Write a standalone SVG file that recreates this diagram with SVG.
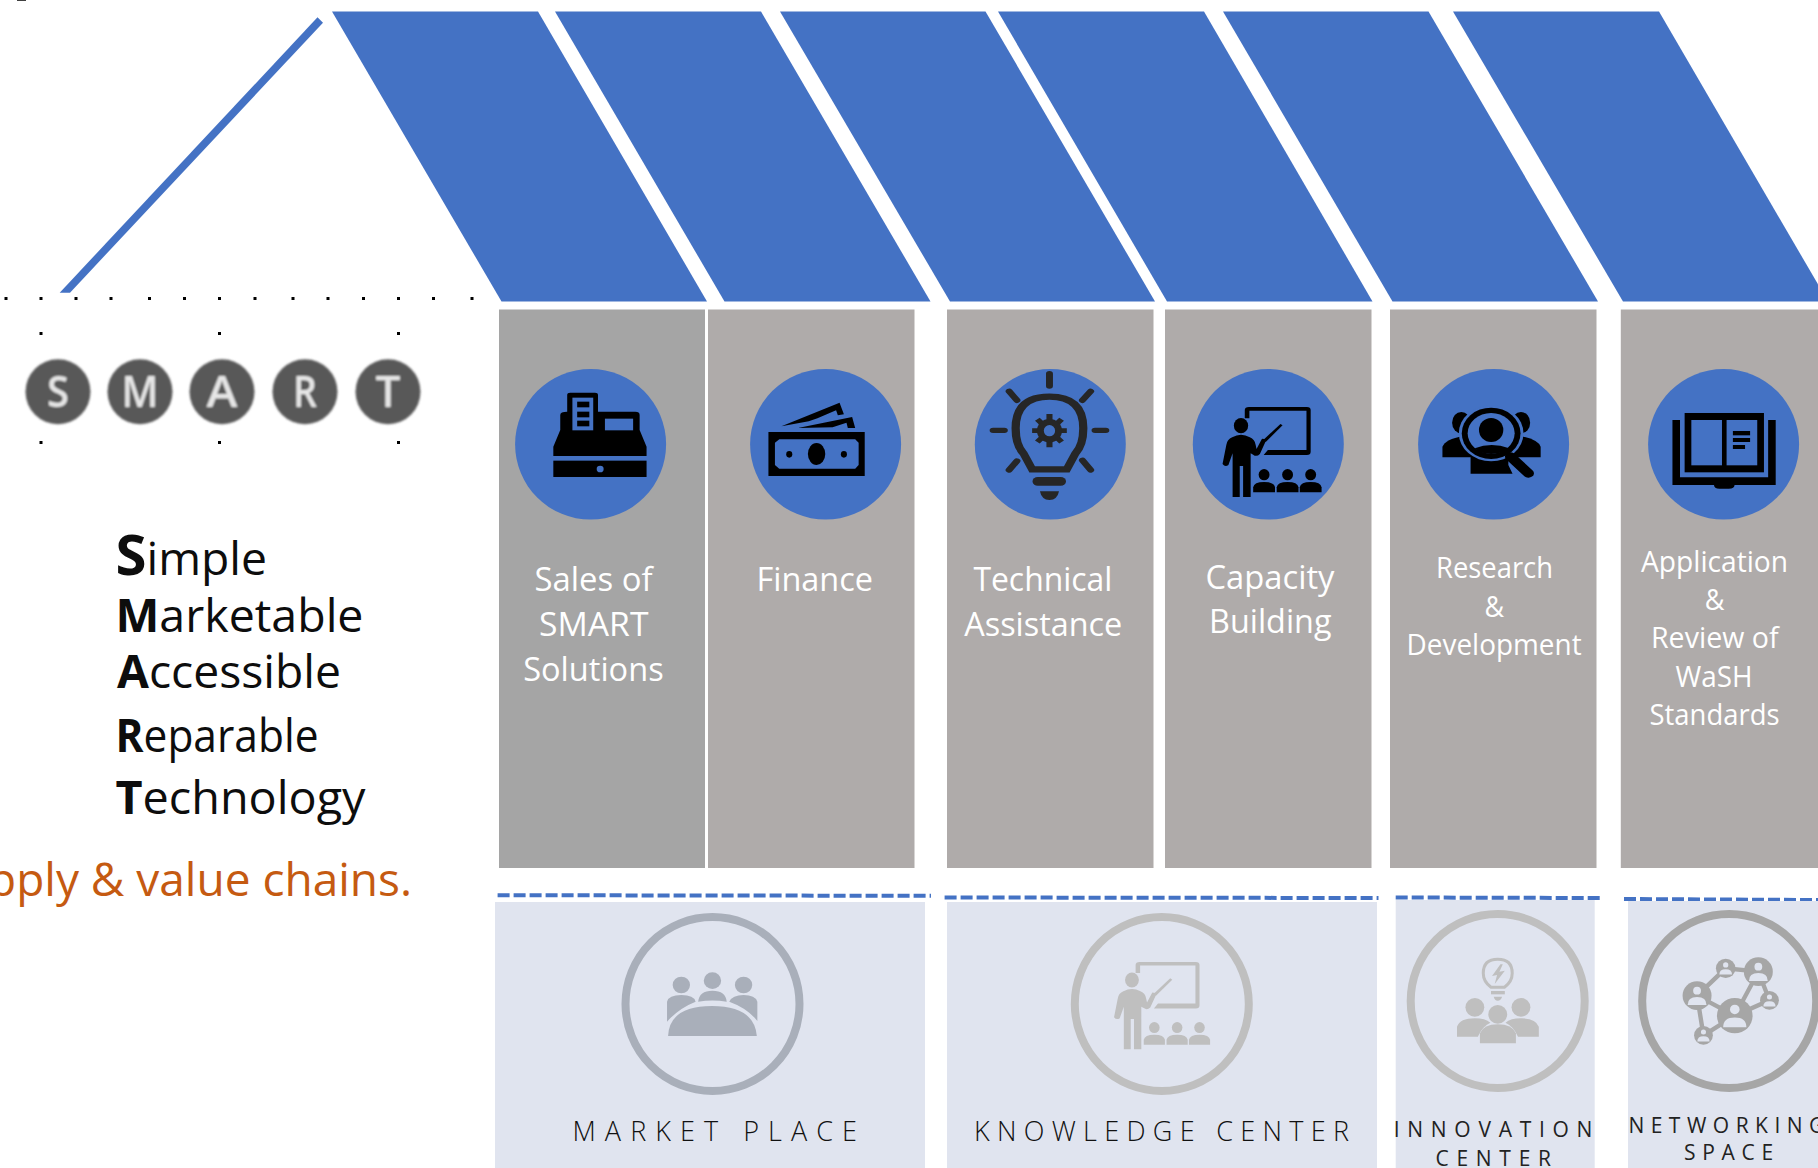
<svg xmlns="http://www.w3.org/2000/svg" xmlns:xlink="http://www.w3.org/1999/xlink" width="1818" height="1168" viewBox="0 0 1818 1168">
<style>
.roof{fill:#4472c4}
.col{fill:#afabaa}
.badge{fill:#4472c4}
.cut{fill:#4472c4}
.panel{fill:#e0e4ef}
.dash{fill:none;stroke:#4472c4;stroke-width:4;stroke-dasharray:12 4}
.ring{fill:none;stroke-width:8}
.lbl{font-family:"Open Sans","Noto Sans",sans-serif;font-size:33px;fill:#fff}
.lbl2{font-family:"Open Sans","Noto Sans",sans-serif;font-size:29px;fill:#fff}
.cap{font-family:"Open Sans","Noto Sans",sans-serif;font-size:27px;font-weight:300;fill:#111}
.cap2{font-family:"Open Sans","Noto Sans",sans-serif;font-size:21px;fill:#222}
.smart{font-family:"Open Sans","Noto Sans",sans-serif;font-size:46px;fill:#0d0d0d}
.smart tspan{font-weight:700}
.org{font-family:"Open Sans","Noto Sans",sans-serif;font-size:46px;fill:#c55a11}
.ltr{font-family:"Open Sans","Noto Sans",sans-serif;font-size:44px;font-weight:600;fill:#e6e6e6;text-anchor:middle}
</style>
<defs>
<filter id="soft" x="-5%" y="-5%" width="110%" height="110%"><feGaussianBlur stdDeviation="1"/></filter>
<g id="teacher">
<ellipse cx="193" cy="227" rx="17" ry="23"/>
<path d="M172 262Q193 247 214 262Q226 268 228 285L230 297L243 266L254 268L238 312Q230 322 222 314L216 310V441H198V348H190V441H173V310L163 345Q155 352 149 342L158 285Q160 268 172 262Z"/>
<path d="M246 270L287 222L292 226L252 276Z"/>
<path d="M202 205V180Q202 171 212 171H350Q359 171 359 180V305Q359 315 350 315H247L257 300H349V182H213V205Z"/>
<g id="aud"><ellipse cx="248" cy="374" rx="13" ry="17"/><path d="M222 427V412Q224 396 248 396Q272 396 274 412V427Z"/></g>
<use xlink:href="#aud" href="#aud" x="56"/><use xlink:href="#aud" href="#aud" x="111"/>
</g>
<g id="np"><circle cy="-3.5" r="2.7"/><path d="M-6.5 6.5Q-6.5 1 0 1Q6.5 1 6.5 6.5Z"/></g>
</defs>
<rect width="1818" height="1168" fill="#fff"/>
<rect x="17" y="0" width="9" height="1" fill="#404040"/>

<g id="roof">
<polygon class="roof" points="317.5,17.3 323,22.7 70,292.7 59.7,292.7"/>
<polygon class="roof" points="332,11.5 538,11.5 707,301.5 501.5,301.5"/>
<polygon class="roof" points="555,11.5 761,11.5 930.5,301.5 724.5,301.5"/>
<polygon class="roof" points="780,11.5 985.5,11.5 1155,301.5 950,301.5"/>
<polygon class="roof" points="998,11.5 1204,11.5 1372.5,301.5 1167,301.5"/>
<polygon class="roof" points="1223,11.5 1428.5,11.5 1598,301.5 1392.5,301.5"/>
<polygon class="roof" points="1453,11.5 1659,11.5 1828,301.5 1623,301.5"/>
</g>

<g id="handles" fill="#000">
<rect x="4.5" y="297" width="3" height="3"/><rect x="39.5" y="297" width="3" height="3"/><rect x="74.5" y="297" width="3" height="3"/><rect x="109.5" y="297" width="3" height="3"/><rect x="148" y="297" width="3" height="3"/><rect x="183" y="297" width="3" height="3"/><rect x="218" y="297" width="3" height="3"/><rect x="253.5" y="297" width="3" height="3"/><rect x="291.5" y="297" width="3" height="3"/><rect x="326.5" y="297" width="3" height="3"/><rect x="362" y="297" width="3" height="3"/><rect x="397" y="297" width="3" height="3"/><rect x="432" y="297" width="3" height="3"/><rect x="470.5" y="297" width="3" height="3"/>
<rect x="39.5" y="332" width="3" height="3"/><rect x="218" y="332" width="3" height="3"/><rect x="397" y="332" width="3" height="3"/>
<rect x="39.5" y="441" width="3" height="3"/><rect x="218" y="441" width="3" height="3"/><rect x="397" y="441" width="3" height="3"/>
</g>

<g id="smart-badges" filter="url(#soft)">
<g fill="#595959"><circle cx="58" cy="391.7" r="32.5"/><circle cx="140" cy="391.7" r="32.5"/><circle cx="222" cy="391.7" r="32.5"/><circle cx="305" cy="391.7" r="32.5"/><circle cx="388" cy="391.7" r="32.5"/></g>
<text class="ltr" x="58" y="407" textLength="22" lengthAdjust="spacingAndGlyphs">S</text><text class="ltr" x="140" y="407" textLength="37" lengthAdjust="spacingAndGlyphs">M</text><text class="ltr" x="222" y="407" textLength="31" lengthAdjust="spacingAndGlyphs">A</text><text class="ltr" x="305" y="407" textLength="24" lengthAdjust="spacingAndGlyphs">R</text><text class="ltr" x="388" y="407" textLength="25" lengthAdjust="spacingAndGlyphs">T</text>
</g>

<g id="smart-list">
<text class="smart" x="115.5" y="575" textLength="151.5" lengthAdjust="spacingAndGlyphs"><tspan font-size="56">S</tspan>imple</text>
<text class="smart" x="115.5" y="631.7" textLength="248" lengthAdjust="spacingAndGlyphs"><tspan>M</tspan>arketable</text>
<text class="smart" x="117" y="688.3" textLength="224" lengthAdjust="spacingAndGlyphs"><tspan>A</tspan>ccessible</text>
<text class="smart" x="115.5" y="751.5" textLength="203" lengthAdjust="spacingAndGlyphs"><tspan>R</tspan>eparable</text>
<text class="smart" x="115.5" y="814" textLength="250" lengthAdjust="spacingAndGlyphs"><tspan>T</tspan>echnology</text>
</g>
<text id="tagline" class="org" x="-12" y="896" textLength="424" lengthAdjust="spacingAndGlyphs">pply &amp; value chains.</text>

<g id="col-sales">
<rect x="499" y="309.5" width="206" height="558.5" fill="#a5a5a5"/>
<ellipse class="badge" cx="590.6" cy="444.3" rx="75.5" ry="75.3"/>
<g transform="translate(490 350) scale(.4337 .3333)">
<path d="M146 318V290L162 240V195Q162 185 178 185V135Q178 128 185 128H242Q249 128 249 135V185H335Q345 185 345 195V240L361 290V318Z"/>
<rect class="cut" x="190" y="143" width="48" height="98"/><rect x="201" y="155" width="28" height="17"/><rect x="201" y="185" width="28" height="17"/><rect x="201" y="212" width="28" height="17"/>
<rect class="cut" x="265" y="206" width="65" height="35"/>
<rect x="146" y="332" width="215" height="49"/><ellipse class="cut" cx="254" cy="357" rx="8" ry="10"/>
</g>
<text class="lbl" x="534.5" y="591" textLength="118" lengthAdjust="spacingAndGlyphs">Sales of</text>
<text class="lbl" x="539" y="636" textLength="109.5" lengthAdjust="spacingAndGlyphs">SMART</text>
<text class="lbl" x="523.2" y="681" textLength="140.5" lengthAdjust="spacingAndGlyphs">Solutions</text>
</g>

<g id="col-finance">
<rect class="col" x="708" y="309.5" width="206.5" height="558.5"/>
<ellipse class="badge" cx="825.6" cy="444.3" rx="75.5" ry="75.3"/>
<g transform="translate(490 350) scale(.4337 .3333)">
<rect x="642" y="246" width="222" height="132"/>
<polygon class="cut" points="667,268 842,268 850,278 850,345 842,356 667,356 657,345 657,278"/>
<ellipse cx="753" cy="312" rx="20" ry="33"/><ellipse cx="690" cy="313" rx="7" ry="10"/><ellipse cx="816" cy="313" rx="7" ry="10"/>
<polygon points="672,229 806,158 816,193 802,196 798,181 755,205 735,214"/>
<polygon points="710,234 835,201 842,234 825,234 822,218 790,232"/>
</g>
<text class="lbl" x="756.5" y="591" textLength="116.5" lengthAdjust="spacingAndGlyphs">Finance</text>
</g>

<g id="col-technical">
<rect class="col" x="947" y="309.5" width="206.5" height="558.5"/>
<ellipse class="badge" cx="1050.3" cy="444.3" rx="75.5" ry="75.3"/>
<g transform="translate(490 350) scale(.4337 .3333)" fill="#262626" stroke="#262626">
<g stroke-width="16" stroke-linecap="round" fill="none">
<path d="M1290 71V108M1197 124L1215 151M1385 124L1366 151M1160 241H1186M1395 241H1420M1215 333L1197 360M1366 331L1385 360"/>
<path stroke-width="19" stroke-linecap="butt" d="M1250 358L1230 310Q1212 285 1212 235Q1212 140 1290 140Q1368 140 1368 235Q1368 285 1350 310L1330 358Z"/>
<path stroke-width="14" stroke-linecap="butt" d="M1290 192V292M1250 242H1330M1262 208L1318 276M1318 208L1262 276"/>
</g>
<ellipse stroke="none" cx="1290" cy="242" rx="29" ry="35"/>
<ellipse class="cut" stroke="none" cx="1290" cy="242" rx="13" ry="17"/>
<rect stroke="none" x="1251" y="381" width="77" height="26" rx="12"/>
<path stroke="none" d="M1268 424H1312Q1308 450 1290 450Q1272 450 1268 424Z"/>
</g>
<text class="lbl" x="973.4" y="591" textLength="139" lengthAdjust="spacingAndGlyphs">Technical</text>
<text class="lbl" x="964.3" y="636" textLength="158" lengthAdjust="spacingAndGlyphs">Assistance</text>
</g>

<g id="col-capacity">
<rect class="col" x="1165" y="309.5" width="206.5" height="558.5"/>
<ellipse class="badge" cx="1268.3" cy="444.3" rx="75.5" ry="75.3"/>
<use xlink:href="#teacher" href="#teacher" transform="translate(1160 350) scale(.4197 .3333)"/>
<text class="lbl" x="1205.5" y="589" textLength="129" lengthAdjust="spacingAndGlyphs">Capacity</text>
<text class="lbl" x="1209" y="633.2" textLength="122.5" lengthAdjust="spacingAndGlyphs">Building</text>
</g>

<g id="col-research">
<rect class="col" x="1390" y="309.5" width="206.5" height="558.5"/>
<ellipse class="badge" cx="1493.6" cy="444.3" rx="75.5" ry="75.3"/>
<g transform="translate(1160 350) scale(.4197 .3333)">
<ellipse cx="718" cy="218" rx="22" ry="32"/><ellipse cx="860" cy="218" rx="22" ry="32"/>
<path d="M673 322V290Q680 268 722 258L760 322Z"/><path d="M907 322V290Q900 268 858 258L820 322Z"/>
<path d="M740 371V320H830V345L840 371Z"/>
<ellipse class="cut" cx="789" cy="250" rx="77" ry="84"/>
<ellipse cx="789" cy="250" rx="70" ry="77"/>
<ellipse class="cut" cx="789" cy="250" rx="56" ry="61"/>
<ellipse cx="789" cy="240" rx="29" ry="36"/>
<path d="M750 295Q790 275 832 295Q815 312 789 312Q762 312 750 295Z"/>
<path d="M835 320L878 370" stroke="#000" stroke-width="26" stroke-linecap="round" fill="none"/>
</g>
<text class="lbl2" x="1436" y="578.3" textLength="117" lengthAdjust="spacingAndGlyphs">Research</text>
<text class="lbl2" x="1484.4" y="616.7" textLength="19.6" lengthAdjust="spacingAndGlyphs">&amp;</text>
<text class="lbl2" x="1406.6" y="655.3" textLength="175" lengthAdjust="spacingAndGlyphs">Development</text>
</g>

<g id="col-standards">
<rect class="col" x="1620.8" y="309.5" width="197.2" height="558.5"/>
<ellipse class="badge" cx="1723.6" cy="444.3" rx="75.5" ry="75.3"/>
<g transform="translate(1160 350) scale(.4197 .3333)">
<path d="M1221 210H1239V382H1449V210H1467V405H1369Q1369 416 1355 416H1333Q1320 416 1320 405H1221Z"/>
<rect x="1250" y="189" width="189" height="178"/>
<rect class="cut" x="1266" y="210" width="73" height="136"/><rect class="cut" x="1350" y="210" width="73" height="136"/>
<rect x="1365" y="243" width="41" height="13"/><rect x="1365" y="264" width="41" height="12"/><rect x="1365" y="285" width="29" height="12"/>
</g>
<text class="lbl2" x="1641" y="571.7" textLength="147" lengthAdjust="spacingAndGlyphs">Application</text>
<text class="lbl2" x="1704.7" y="610" textLength="19.7" lengthAdjust="spacingAndGlyphs">&amp;</text>
<text class="lbl2" x="1651" y="648" textLength="127.5" lengthAdjust="spacingAndGlyphs">Review of</text>
<text class="lbl2" x="1675.5" y="686.7" textLength="77" lengthAdjust="spacingAndGlyphs">WaSH</text>
<text class="lbl2" x="1649.5" y="725.3" textLength="130" lengthAdjust="spacingAndGlyphs">Standards</text>
</g>

<g id="connectors">
<path class="dash" d="M497.6 895.2L931 895.8"/>
<path class="dash" d="M944.6 897.5L1378.5 898"/>
<path class="dash" d="M1395.7 897.5L1599.8 898"/>
<path class="dash" d="M1624 899L1818 900"/>
</g>

<g id="market-place">
<rect class="panel" x="495" y="902" width="430" height="266"/>
<circle class="ring" cx="712.5" cy="1004" r="87" stroke="#a9afba"/>
<g transform="translate(490 880) scale(.5102 .3333)" fill="#a9afba">
<ellipse cx="375" cy="315" rx="17" ry="25"/><ellipse cx="436" cy="302" rx="17" ry="25"/><ellipse cx="497" cy="315" rx="17" ry="25"/>
<path d="M347 425V365Q350 345 375 345Q400 345 403 365Q370 385 347 425Z"/>
<path d="M408 365Q410 332 436 332Q462 332 464 365Q436 358 408 365Z"/>
<path d="M524 423V365Q520 345 497 345Q475 345 469 365Q505 385 524 423Z"/>
<path d="M349 468Q352 378 435 378Q518 378 523 468Z"/>
</g>
<text class="cap" x="572.5" y="1140.7" textLength="284.5">MARKET PLACE</text>
</g>

<g id="knowledge-center">
<rect class="panel" x="947" y="902" width="430" height="266"/>
<circle class="ring" cx="1161.8" cy="1004" r="87" stroke="#bfbfbf"/>
<use xlink:href="#teacher" href="#teacher" fill="#bfbfbf" transform="translate(1053.4 906.6) scale(.407 .3233)"/>
<text class="cap" x="974" y="1140.7" textLength="375">KNOWLEDGE CENTER</text>
</g>

<g id="innovation-center">
<rect class="panel" x="1395.7" y="900" width="199" height="268"/>
<circle class="ring" cx="1497.7" cy="1001" r="87" stroke="#bfbfbf"/>
<g transform="translate(1290 880) scale(.3367 .3333)" fill="#bfbfbf">
<path d="M597 322Q574 305 574 280Q574 238 617 238Q660 238 660 280Q660 305 637 322Z" fill="none" stroke="#bfbfbf" stroke-width="9"/>
<rect x="597" y="333" width="41" height="10"/><path d="M605 350H630Q626 362 617 362Q608 362 605 350Z"/>
<polygon points="625,253 600,288 615,285 608,312 638,272 622,275 632,253"/>
<circle cx="549" cy="382" r="28"/><circle cx="686" cy="382" r="28"/><circle cx="617" cy="403" r="28"/>
<path d="M496 470V440Q505 415 549 415Q580 415 595 428Q570 440 558 470Z"/>
<path d="M739 470V440Q730 415 686 415Q655 415 640 428Q665 440 677 470Z"/>
<path d="M564 490V460Q575 433 617 433Q660 433 671 460V490Z"/>
</g>
<text class="cap2" x="1393.7" y="1136.7" textLength="198.7">INNOVATION</text>
<text class="cap2" x="1435.5" y="1165.7" textLength="115.5">CENTER</text>
</g>

<g id="networking-space">
<rect class="panel" x="1628" y="901" width="190" height="267"/>
<circle class="ring" cx="1729.2" cy="1001" r="87" stroke="#a6a6a6"/>
<g transform="translate(1290 880) scale(.3367 .3333)">
<path fill="none" stroke="#a6a6a6" stroke-width="13" d="M1209 347L1294 265L1391 275L1321 407L1209 347L1228 466L1321 407L1424 361L1391 275"/>
<g fill="#a6a6a6"><circle cx="1294" cy="265" r="29"/><circle cx="1391" cy="275" r="43"/><circle cx="1209" cy="347" r="43"/><circle cx="1321" cy="407" r="53"/><circle cx="1424" cy="361" r="28"/><circle cx="1228" cy="466" r="28"/></g>
<g fill="#e0e4ef">
<use xlink:href="#np" href="#np" transform="translate(1294 265) scale(2.9)"/>
<use xlink:href="#np" href="#np" transform="translate(1391 275) scale(4.3)"/>
<use xlink:href="#np" href="#np" transform="translate(1209 347) scale(4.3)"/>
<use xlink:href="#np" href="#np" transform="translate(1321 407) scale(5.3)"/>
<use xlink:href="#np" href="#np" transform="translate(1424 361) scale(2.8)"/>
<use xlink:href="#np" href="#np" transform="translate(1228 466) scale(2.8)"/>
</g>
</g>
<text class="cap2" x="1628.4" y="1133.3" textLength="196">NETWORKING</text>
<text class="cap2" x="1684" y="1160" textLength="89.2">SPACE</text>
</g>
</svg>
